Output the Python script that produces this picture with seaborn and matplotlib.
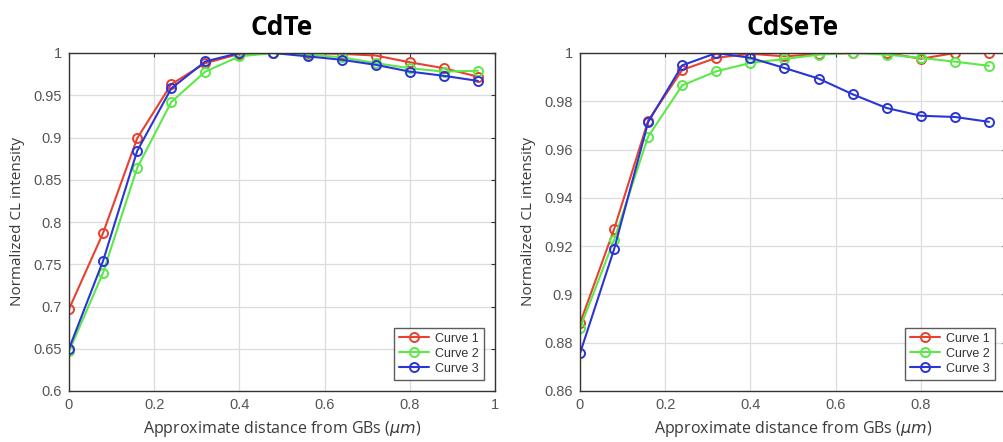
import numpy as np
import pandas as pd
import matplotlib
matplotlib.use("Agg")
import matplotlib.pyplot as plt
import seaborn as sns

# ---- data ----
distance = [0.0, 0.08, 0.16, 0.24, 0.32, 0.40, 0.48, 0.56, 0.64, 0.72, 0.80, 0.88, 0.96]

cdte_curve1 = [0.697, 0.787, 0.899, 0.963, 0.988, 0.999, 1.000, 1.000, 0.999, 0.997, 0.989, 0.982, 0.972]
cdte_curve2 = [0.647, 0.740, 0.864, 0.942, 0.978, 0.996, 1.000, 0.998, 0.995, 0.988, 0.982, 0.978, 0.979]
cdte_curve3 = [0.650, 0.754, 0.884, 0.958, 0.990, 1.000, 1.000, 0.996, 0.992, 0.986, 0.978, 0.973, 0.967]

cdsete_curve1 = [0.888, 0.927, 0.972, 0.993, 0.998, 0.9997, 0.9986, 0.9996, 1.000, 1.000, 0.9976, 1.000, 1.000]
cdsete_curve2 = [0.886, 0.9226, 0.9654, 0.9866, 0.9924, 0.9959, 0.9975, 0.9993, 1.000, 0.9993, 0.998, 0.9964, 0.9947]
cdsete_curve3 = [0.8756, 0.9187, 0.9714, 0.9949, 1.000, 0.998, 0.9938, 0.9894, 0.9829, 0.9772, 0.974, 0.9735, 0.9715]

curve_labels = ["Curve 1", "Curve 2", "Curve 3"]
colors = ["#e8412f", "#5de84a", "#2a36d4"]
titles = ["CdTe", "CdSeTe"]
xticks = [0, 0.2, 0.4, 0.6, 0.8, 1]
xticklabels_left = ["0", "0.2", "0.4", "0.6", "0.8", "1"]
xticklabels_right = ["0", "0.2", "0.4", "0.6", "0.8", ""]
yticks_left = [0.6, 0.65, 0.7, 0.75, 0.8, 0.85, 0.9, 0.95, 1.0]
yticklabels_left = ["0.6", "0.65", "0.7", "0.75", "0.8", "0.85", "0.9", "0.95", "1"]
yticks_right = [0.86, 0.88, 0.9, 0.92, 0.94, 0.96, 0.98, 1.0]
yticklabels_right = ["0.86", "0.88", "0.9", "0.92", "0.94", "0.96", "0.98", "1"]

sns.set_style("white")
plt.rcParams['font.family'] = ['Liberation Sans', 'DejaVu Sans']

W, H = 1004, 442
fig = plt.figure(figsize=(W / 100, H / 100), dpi=100)

def frac(x0, x1, ytop, ybot):
    return [x0 / W, 1 - ybot / H, (x1 - x0) / W, (ybot - ytop) / H]

ax1 = fig.add_axes(frac(69, 495, 53, 391))
ax2 = fig.add_axes(frac(580, 1006, 53, 391))

panels = [
    (ax1, [cdte_curve1, cdte_curve2, cdte_curve3], (0.6, 1.0), yticks_left, yticklabels_left, xticklabels_left),
    (ax2, [cdsete_curve1, cdsete_curve2, cdsete_curve3], (0.86, 1.0), yticks_right, yticklabels_right, xticklabels_right),
]

for i, (ax, series, ylim, yt, ytl, xtl) in enumerate(panels):
    for vals, lab, c in zip(series, curve_labels, colors):
        df = pd.DataFrame({"x": distance, "y": vals})
        sns.lineplot(data=df, x="x", y="y", ax=ax, color=c, label=lab,
                     marker="o", markersize=6.5, markerfacecolor="none",
                     markeredgecolor=c, markeredgewidth=1.4, linewidth=1.5)
    ax.set_xlim(0, 1)
    ax.set_ylim(*ylim)
    ax.set_xticks(xticks)
    ax.set_xticklabels(xtl)
    ax.set_yticks(yt)
    ax.set_yticklabels(ytl)
    ax.grid(True, color="#dcdcdc", linewidth=0.9)
    ax.set_axisbelow(True)
    for s in ax.spines.values():
        s.set_color("#333333")
        s.set_linewidth(1.0)
        s.set_visible(True)
    ax.tick_params(direction="in", length=3, width=0.8, color="#333333",
                   labelsize=10.5, labelcolor="#555555", top=True, right=True,
                   pad=5)
    ax.set_xlabel("Approximate distance from GBs ($\\mu m$)", fontsize=11.5,
                  color="#3a3a3a", family=["Open Sans", "DejaVu Sans"], labelpad=5)
    ax.set_ylabel("Normalized CL intensity", fontsize=11,
                  color="#3a3a3a", family=["Open Sans", "DejaVu Sans"], labelpad=6)
    ax.set_title(titles[i], fontsize=19, fontweight="bold", color="black",
                 family=["Open Sans", "DejaVu Sans"], pad=13)
    leg = ax.legend(loc="lower right", fontsize=9, frameon=True, fancybox=False,
                    edgecolor="#333333", handlelength=2.4, borderpad=0.4,
                    labelspacing=0.25, handletextpad=0.5, borderaxespad=0.9)
    leg.get_frame().set_linewidth(1.0)
    for t in leg.get_texts():
        t.set_color("#333333")

fig.savefig("out.png", dpi=100)
